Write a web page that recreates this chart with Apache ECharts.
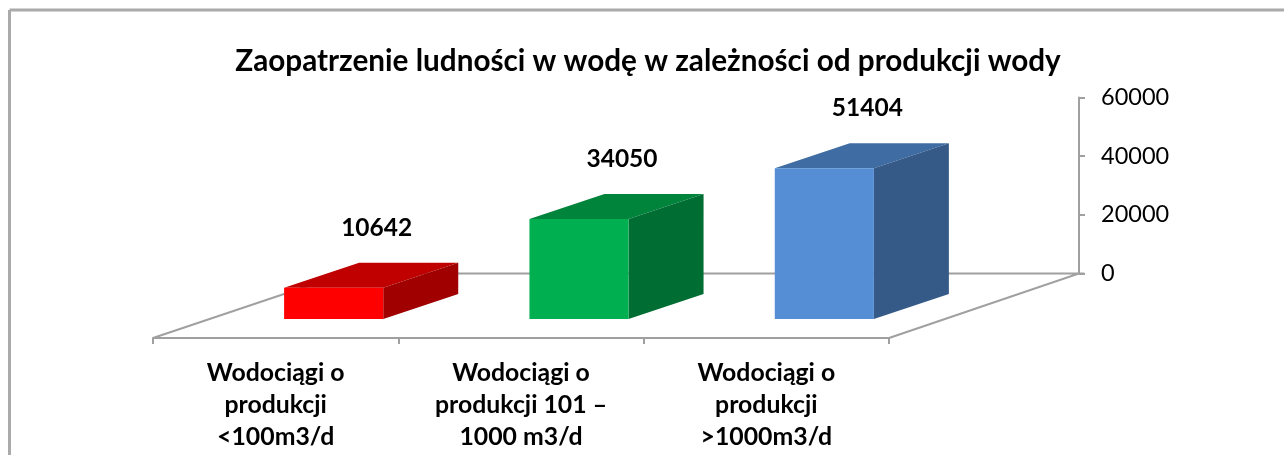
<!DOCTYPE html>
<html>
<head>
<meta charset="utf-8">
<style>html,body{margin:0;padding:0;background:#fff;overflow:hidden}#c{width:1284px;height:455px}</style>
<script src="https://cdn.jsdelivr.net/npm/echarts@6/dist/echarts.min.js"></script>
</head>
<body>
<div id="c"></div>
<script>
const titleText = 'Zaopatrzenie ludności w wodę w zależności od produkcji wody';
const categories = ['Wodociągi o\nprodukcji\n<100m3/d', 'Wodociągi o\nprodukcji 101 –\n1000 m3/d', 'Wodociągi o\nprodukcji\n>1000m3/d'];
const values = [10642, 34050, 51404];
const frontColors = ['#FF0000', '#00B050', '#558ED5'];
const topColors = ['#C00000', '#00843C', '#3F6CA2'];
const sideColors = ['#A00000', '#006E33', '#355A87'];
const yTicks = { min: 0, max: 60000, interval: 20000 };

const FONT = 'Lato, Carlito, sans-serif';
const GREY = '#A0A0A0';
const FLOOR_Y = 64.5, FLOOR_X = 192, AXIS_SHIFT = 190;
const BAR_DX = 58, BAR_DY = 45.5, DEPTH_X = 75, DEPTH_Y = 25, BAR_W = 0.404;

function poly(points, fill) {
  return { type: 'polygon', shape: { points }, style: { fill, stroke: null } };
}
function renderBar(params, api) {
  const i = api.value(0);
  const top = api.coord([i, api.value(1)]);
  const base = api.coord([i, 0]);
  const w = api.size([1, 0])[0] * BAR_W;
  const l = top[0] + BAR_DX - w / 2, r = l + w;
  const t = top[1] + BAR_DY, b = base[1] + BAR_DY;
  return {
    type: 'group',
    children: [
      poly([[l, t], [r, t], [r + DEPTH_X, t - DEPTH_Y], [l + DEPTH_X, t - DEPTH_Y]], topColors[i]),
      poly([[r, t], [r + DEPTH_X, t - DEPTH_Y], [r + DEPTH_X, b - DEPTH_Y], [r, b]], sideColors[i]),
      poly([[l, t], [r, t], [r, b], [l, b]], frontColors[i]),
      { type: 'text', x: (l + r) / 2 + 43, y: t - 60,
        style: { text: String(api.value(1)), font: 'bold 24.5px ' + FONT, fill: '#000', align: 'center', verticalAlign: 'middle' } }
    ]
  };
}
function renderFloor(params) {
  const c = params.coordSys, y = c.y + c.height;
  return {
    type: 'polyline',
    shape: { points: [[c.x, y + FLOOR_Y], [c.x + FLOOR_X, y], [c.x + c.width + AXIS_SHIFT, y], [c.x + c.width, y + FLOOR_Y]] },
    style: { stroke: GREY, lineWidth: 2, fill: null }
  };
}
const chart = echarts.init(document.getElementById('c'), null, { renderer: 'canvas' });
chart.setOption({
  animation: false,
  backgroundColor: '#fff',
  title: {
    text: titleText, left: 643, top: 41, textAlign: 'center',
    textStyle: { fontFamily: FONT, fontWeight: 'bold', fontSize: 29.7, color: '#000' }
  },
  grid: { left: 153, top: 97.5, width: 736, height: 176 },
  xAxis: {
    type: 'category', data: categories, position: 'bottom', offset: FLOOR_Y,
    axisLine: { onZero: false, lineStyle: { color: GREY, width: 2 } },
    axisTick: { show: true, length: 6, lineStyle: { color: GREY, width: 2 } },
    axisLabel: { interval: 0, margin: 19, lineHeight: 32, fontFamily: FONT, fontWeight: 'bold', fontSize: 24.8, color: '#000' }
  },
  yAxis: {
    type: 'value', position: 'right', offset: AXIS_SHIFT,
    min: yTicks.min, max: yTicks.max, interval: yTicks.interval,
    splitLine: { show: false },
    axisLine: { show: true, lineStyle: { color: GREY, width: 2 } },
    axisTick: { show: true, length: 6, lineStyle: { color: GREY, width: 2 } },
    axisLabel: { margin: 22, formatter: v => String(v), fontFamily: FONT, fontSize: 23.5, color: '#000' }
  },
  series: [
    { type: 'custom', name: 'floor', clip: false, z: 1, silent: true, renderItem: renderFloor, data: [[0, 0]] },
    { type: 'custom', name: 'bars', clip: false, z: 2, encode: { x: 0, y: 1 }, renderItem: renderBar,
      data: values.map((v, i) => [i, v]) }
  ],
  graphic: [
    { type: 'line', shape: { x1: 9.5, y1: 10, x2: 1284, y2: 10 }, style: { stroke: '#AAAAAA', lineWidth: 3 } },
    { type: 'line', shape: { x1: 9.5, y1: 10, x2: 9.5, y2: 455 }, style: { stroke: '#AAAAAA', lineWidth: 3 } }
  ]
});
</script>
</body>
</html>
